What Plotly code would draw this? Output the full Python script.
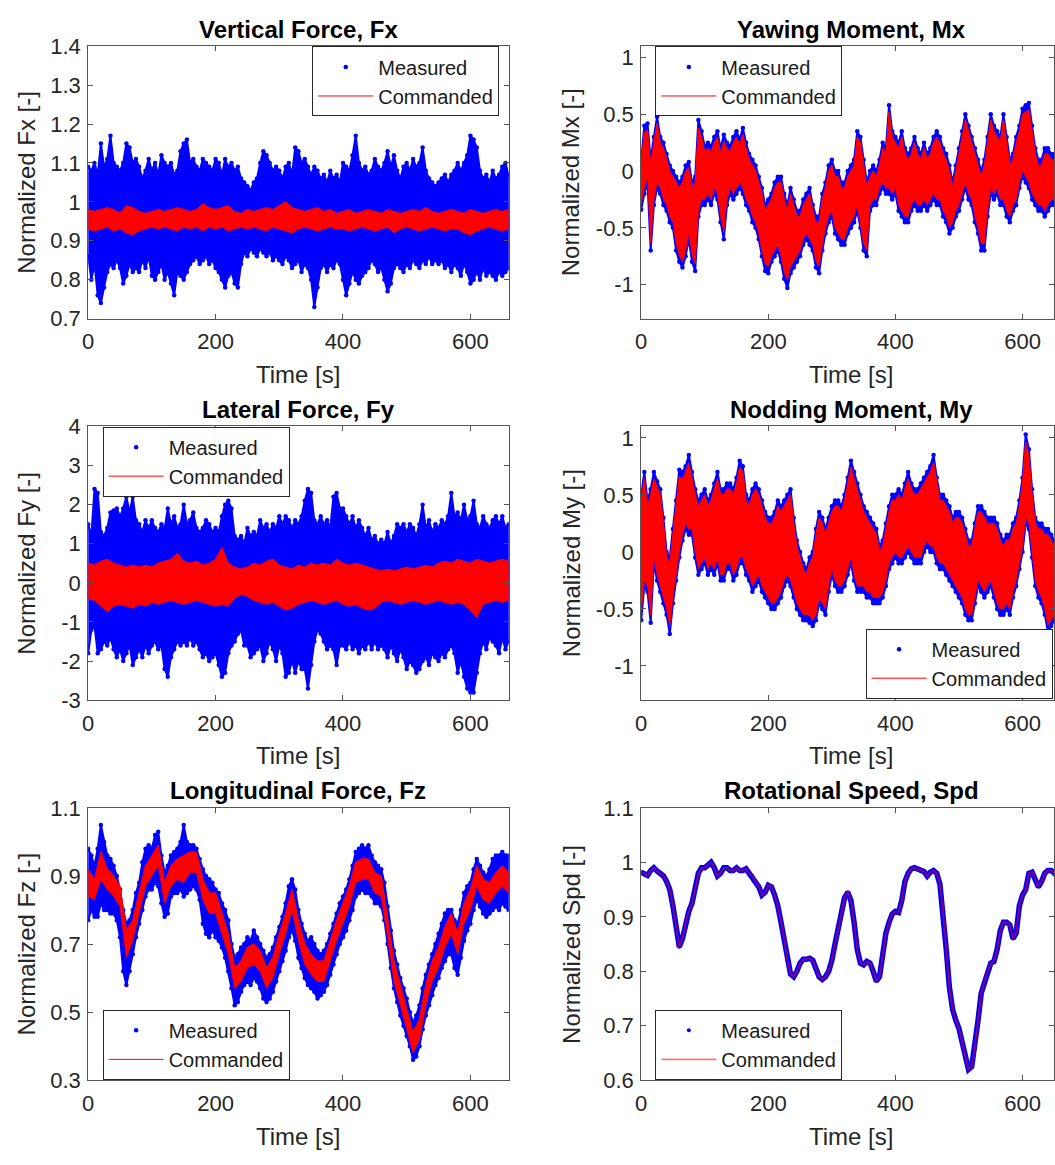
import plotly.graph_objects as go
from plotly.subplots import make_subplots

W, H = 1055, 1165
FONT = "Liberation Sans, Arial, Helvetica, sans-serif"
BLUE = "rgb(0,0,255)"
RED = "rgb(255,0,0)"
AXIS = "#555555"
TEXT = "#262626"

# sample times [s]
t5 = list(range(0, 661, 5))
t10 = list(range(0, 661, 10))

# ---------------- Vertical force Fx ----------------
fx_meas_hi = [
    1.09, 1.08, 1.10, 1.07, 1.15, 1.09, 1.11, 1.17, 1.10, 1.09,
    1.08, 1.10, 1.15, 1.14, 1.10, 1.11, 1.09, 1.06, 1.08, 1.11,
    1.08, 1.10, 1.07, 1.12, 1.10, 1.09, 1.10, 1.07, 1.08, 1.13,
    1.15, 1.16, 1.10, 1.11, 1.09, 1.08, 1.11, 1.10, 1.09, 1.08,
    1.11, 1.10, 1.07, 1.11, 1.09, 1.10, 1.08, 1.09, 1.06, 1.05,
    1.04, 1.03, 1.05, 1.06, 1.10, 1.13, 1.12, 1.10, 1.08, 1.09,
    1.08, 1.06, 1.09, 1.10, 1.07, 1.14, 1.13, 1.10, 1.11, 1.09,
    1.07, 1.09, 1.08, 1.06, 1.07, 1.05, 1.08, 1.06, 1.07, 1.05,
    1.10, 1.09, 1.08, 1.12, 1.17, 1.10, 1.08, 1.09, 1.07, 1.08,
    1.11, 1.09, 1.08, 1.10, 1.13, 1.09, 1.12, 1.08, 1.06, 1.09,
    1.10, 1.08, 1.11, 1.09, 1.10, 1.14, 1.08, 1.06, 1.05, 1.04,
    1.05, 1.06, 1.07, 1.05, 1.07, 1.08, 1.10, 1.08, 1.10, 1.12,
    1.17, 1.16, 1.14, 1.08, 1.06, 1.07, 1.05, 1.08, 1.06, 1.07,
    1.09, 1.10, 1.07]
fx_meas_lo = [
    0.86, 0.80, 0.84, 0.76, 0.74, 0.78, 0.82, 0.84, 0.83, 0.85,
    0.83, 0.79, 0.81, 0.84, 0.82, 0.83, 0.82, 0.85, 0.83, 0.86,
    0.81, 0.80, 0.82, 0.84, 0.80, 0.82, 0.79, 0.76, 0.82, 0.81,
    0.80, 0.82, 0.84, 0.85, 0.86, 0.84, 0.85, 0.86, 0.84, 0.85,
    0.83, 0.82, 0.80, 0.78, 0.81, 0.82, 0.79, 0.78, 0.84, 0.87,
    0.86, 0.88, 0.87, 0.86, 0.88, 0.87, 0.86, 0.87, 0.85, 0.86,
    0.85, 0.84, 0.86, 0.85, 0.83, 0.84, 0.85, 0.82, 0.84, 0.83,
    0.80, 0.73, 0.78, 0.83, 0.84, 0.82, 0.84, 0.83, 0.85, 0.84,
    0.80, 0.76, 0.79, 0.82, 0.80, 0.79, 0.81, 0.82, 0.83, 0.85,
    0.84, 0.82, 0.83, 0.80, 0.77, 0.79, 0.83, 0.84, 0.83, 0.82,
    0.84, 0.83, 0.85, 0.84, 0.83, 0.85, 0.84, 0.86, 0.84, 0.85,
    0.84, 0.85, 0.83, 0.84, 0.82, 0.84, 0.83, 0.81, 0.84, 0.82,
    0.79, 0.80, 0.82, 0.80, 0.83, 0.81, 0.82, 0.81, 0.80, 0.82,
    0.81, 0.82, 0.83]
fx_cmd_hi = [
    0.980, 0.975, 0.980, 0.985, 0.980, 0.970, 0.990, 0.985, 0.975, 0.970,
    0.975, 0.980, 0.975, 0.980, 0.985, 0.980, 0.975, 0.980, 0.995, 0.985,
    0.980, 0.985, 0.990, 0.975, 0.970, 0.980, 0.975, 0.980, 0.985, 0.980,
    0.990, 1.000, 0.985, 0.980, 0.975, 0.980, 0.985, 0.975, 0.980, 0.970,
    0.975, 0.980, 0.970, 0.975, 0.980, 0.975, 0.970, 0.980, 0.975, 0.970,
    0.975, 0.980, 0.975, 0.985, 0.975, 0.970, 0.975, 0.980, 0.975, 0.970,
    0.980, 0.975, 0.970, 0.975, 0.980, 0.975, 0.980]
fx_cmd_lo = [
    0.930, 0.925, 0.930, 0.935, 0.925, 0.930, 0.920, 0.915, 0.925, 0.930,
    0.935, 0.930, 0.935, 0.930, 0.925, 0.935, 0.930, 0.935, 0.925, 0.935,
    0.930, 0.935, 0.925, 0.930, 0.935, 0.930, 0.935, 0.930, 0.925, 0.935,
    0.930, 0.925, 0.920, 0.930, 0.935, 0.930, 0.925, 0.930, 0.935, 0.930,
    0.930, 0.925, 0.930, 0.935, 0.930, 0.925, 0.930, 0.935, 0.920, 0.930,
    0.935, 0.930, 0.925, 0.930, 0.935, 0.930, 0.925, 0.930, 0.930, 0.920,
    0.915, 0.925, 0.930, 0.935, 0.930, 0.925, 0.930]

# ---------------- Yawing moment Mx ----------------
mx_meas_hi = [
    0.10, 0.40, 0.42, 0.10, 0.30, 0.48, 0.30, 0.25, 0.15, 0.05,
    0.00, -0.05, -0.10, -0.05, 0.05, 0.08, -0.10, -0.05, 0.45, 0.35,
    0.22, 0.25, 0.22, 0.30, 0.35, 0.20, 0.32, 0.25, 0.22, 0.30,
    0.35, 0.28, 0.38, 0.25, 0.15, 0.10, 0.05, -0.05, -0.15, -0.30,
    -0.25, -0.20, -0.10, -0.05, -0.05, -0.20, -0.30, -0.15, -0.25, -0.35,
    -0.35, -0.25, -0.20, -0.15, -0.30, -0.40, -0.40, -0.20, -0.10, 0.05,
    0.10, 0.00, 0.00, -0.10, -0.10, 0.00, 0.05, 0.10, 0.35, 0.30,
    0.10, -0.10, 0.00, 0.05, 0.00, 0.10, 0.25, 0.20, 0.58, 0.35,
    0.30, 0.25, 0.35, 0.20, 0.15, 0.20, 0.30, 0.20, 0.15, 0.25,
    0.15, 0.20, 0.30, 0.35, 0.30, 0.20, 0.15, 0.05, -0.10, 0.05,
    0.20, 0.35, 0.50, 0.40, 0.30, 0.20, 0.10, 0.00, 0.10, 0.30,
    0.50, 0.40, 0.35, 0.30, 0.50, 0.30, 0.10, 0.15, 0.30, 0.40,
    0.55, 0.58, 0.60, 0.40, 0.20, 0.10, 0.10, 0.20, 0.20, 0.15,
    0.15, 0.20, 0.20]
mx_meas_lo = [
    -0.34, -0.20, -0.10, -0.70, -0.30, -0.15, -0.20, -0.30, -0.35, -0.45,
    -0.50, -0.70, -0.80, -0.85, -0.75, -0.60, -0.80, -0.88, -0.40, -0.30,
    -0.30, -0.25, -0.30, -0.20, -0.25, -0.45, -0.60, -0.30, -0.20, -0.25,
    -0.20, -0.15, -0.20, -0.30, -0.35, -0.45, -0.50, -0.60, -0.75, -0.88,
    -0.90, -0.80, -0.75, -0.70, -0.80, -0.95, -1.03, -0.90, -0.85, -0.80,
    -0.75, -0.65, -0.60, -0.65, -0.70, -0.85, -0.90, -0.70, -0.55, -0.45,
    -0.40, -0.55, -0.60, -0.65, -0.65, -0.55, -0.50, -0.45, -0.35, -0.50,
    -0.70, -0.75, -0.35, -0.30, -0.30, -0.20, -0.15, -0.20, -0.20, -0.25,
    -0.20, -0.35, -0.40, -0.45, -0.45, -0.35, -0.30, -0.35, -0.35, -0.30,
    -0.35, -0.30, -0.25, -0.30, -0.30, -0.40, -0.45, -0.55, -0.50, -0.40,
    -0.35, -0.25, -0.15, -0.25, -0.30, -0.45, -0.55, -0.70, -0.70, -0.40,
    -0.20, -0.25, -0.20, -0.30, -0.30, -0.40, -0.45, -0.35, -0.30, -0.15,
    -0.05, -0.10, -0.15, -0.25, -0.30, -0.35, -0.35, -0.40, -0.35, -0.30,
    -0.30, -0.25, -0.20]
mx_cmd_hi = [
    0.05, 0.34, 0.36, 0.05, 0.25, 0.42, 0.25, 0.20, 0.10, 0.00,
    -0.05, -0.10, -0.15, -0.10, 0.00, 0.03, -0.15, -0.10, 0.38, 0.30,
    0.17, 0.20, 0.17, 0.25, 0.30, 0.15, 0.26, 0.20, 0.17, 0.25,
    0.30, 0.23, 0.32, 0.20, 0.10, 0.05, 0.00, -0.10, -0.20, -0.35,
    -0.30, -0.25, -0.15, -0.10, -0.10, -0.25, -0.35, -0.20, -0.30, -0.40,
    -0.40, -0.30, -0.25, -0.20, -0.35, -0.45, -0.45, -0.25, -0.15, 0.00,
    0.05, -0.05, -0.05, -0.15, -0.15, -0.05, 0.00, 0.05, 0.30, 0.25,
    0.05, -0.15, -0.05, 0.00, -0.05, 0.05, 0.20, 0.15, 0.52, 0.30,
    0.25, 0.20, 0.30, 0.15, 0.10, 0.15, 0.25, 0.15, 0.10, 0.20,
    0.10, 0.15, 0.25, 0.30, 0.25, 0.15, 0.10, 0.00, -0.15, 0.00,
    0.15, 0.30, 0.45, 0.35, 0.25, 0.15, 0.05, -0.05, 0.05, 0.25,
    0.45, 0.35, 0.30, 0.25, 0.45, 0.25, 0.05, 0.10, 0.25, 0.35,
    0.50, 0.52, 0.54, 0.35, 0.15, 0.05, 0.05, 0.15, 0.15, 0.10,
    0.10, 0.15, 0.15]
mx_cmd_lo = [
    -0.29, -0.15, -0.05, -0.64, -0.25, -0.10, -0.15, -0.25, -0.30, -0.40,
    -0.45, -0.64, -0.74, -0.80, -0.70, -0.55, -0.74, -0.82, -0.35, -0.25,
    -0.25, -0.20, -0.25, -0.15, -0.20, -0.40, -0.54, -0.25, -0.15, -0.20,
    -0.15, -0.10, -0.15, -0.25, -0.30, -0.40, -0.45, -0.55, -0.70, -0.82,
    -0.84, -0.75, -0.70, -0.65, -0.75, -0.89, -0.96, -0.84, -0.80, -0.75,
    -0.70, -0.60, -0.55, -0.60, -0.65, -0.80, -0.84, -0.65, -0.50, -0.40,
    -0.35, -0.50, -0.55, -0.60, -0.60, -0.50, -0.45, -0.40, -0.30, -0.45,
    -0.64, -0.70, -0.30, -0.25, -0.25, -0.15, -0.10, -0.15, -0.15, -0.20,
    -0.15, -0.30, -0.35, -0.40, -0.40, -0.30, -0.25, -0.30, -0.30, -0.25,
    -0.30, -0.25, -0.20, -0.25, -0.25, -0.35, -0.40, -0.50, -0.45, -0.35,
    -0.30, -0.20, -0.10, -0.20, -0.25, -0.40, -0.50, -0.64, -0.64, -0.35,
    -0.15, -0.20, -0.15, -0.25, -0.25, -0.35, -0.40, -0.30, -0.25, -0.10,
    0.00, -0.05, -0.10, -0.20, -0.25, -0.30, -0.30, -0.35, -0.30, -0.25,
    -0.25, -0.20, -0.15]

# ---------------- Lateral force Fy ----------------
fy_meas_hi = [
    1.50, 1.20, 2.40, 2.30, 1.30, 1.20, 1.40, 1.80, 1.85, 1.90,
    1.70, 1.90, 2.20, 1.80, 2.20, 1.60, 1.50, 1.30, 1.60, 1.40,
    1.60, 1.40, 1.30, 1.50, 1.40, 1.90, 1.50, 1.70, 1.40, 1.50,
    2.00, 1.50, 1.60, 1.80, 1.40, 1.30, 1.40, 1.60, 1.50, 1.30,
    1.40, 1.30, 1.70, 2.00, 2.10, 1.90, 1.20, 1.10, 1.20, 1.00,
    1.40, 1.20, 1.30, 1.20, 1.60, 1.40, 1.50, 1.30, 1.50, 1.40,
    1.70, 1.50, 1.70, 1.60, 1.40, 1.60, 1.50, 1.70, 2.10, 2.40,
    2.30, 1.60, 1.50, 1.70, 1.50, 1.60, 1.40, 2.20, 2.30, 1.90,
    1.90, 1.70, 1.50, 1.70, 1.40, 1.60, 1.40, 1.20, 1.40, 1.10,
    1.20, 1.00, 1.10, 1.00, 1.30, 1.00, 1.20, 1.50, 1.40, 1.50,
    1.30, 1.50, 1.40, 1.20, 1.50, 2.00, 1.40, 1.60, 1.30, 1.50,
    1.40, 1.60, 1.50, 1.70, 2.30, 1.70, 1.80, 1.60, 2.00, 1.60,
    1.70, 2.10, 1.50, 1.40, 1.70, 1.50, 1.40, 1.60, 1.70, 1.50,
    1.70, 1.40, 1.50]
fy_meas_lo = [
    -1.80, -1.20, -1.10, -1.80, -1.70, -1.50, -1.60, -1.40, -1.70, -1.90,
    -1.70, -2.00, -1.80, -1.60, -2.10, -1.90, -1.70, -1.90, -1.60, -1.80,
    -1.60, -1.50, -1.70, -1.60, -2.20, -2.40, -1.90, -1.70, -1.50, -1.60,
    -1.50, -1.60, -1.40, -1.60, -1.50, -1.70, -1.90, -1.80, -2.00, -1.90,
    -1.80, -2.10, -2.40, -2.30, -1.80, -1.60, -1.50, -1.30, -1.20, -1.60,
    -1.60, -1.90, -1.80, -1.70, -1.60, -2.00, -1.80, -1.50, -1.70, -2.00,
    -1.60, -1.80, -2.40, -2.30, -2.00, -2.30, -2.00, -2.20, -2.20, -2.70,
    -2.10, -1.50, -1.20, -1.30, -1.50, -1.70, -1.60, -1.70, -2.10, -1.60,
    -1.60, -1.70, -1.50, -1.70, -1.60, -1.80, -1.60, -1.70, -1.50, -1.70,
    -1.50, -1.70, -1.60, -1.70, -1.90, -1.60, -1.80, -2.00, -1.70, -1.90,
    -2.20, -2.00, -2.10, -2.30, -2.20, -2.00, -1.90, -2.10, -1.80, -1.90,
    -2.00, -1.80, -1.90, -1.70, -1.60, -1.80, -2.30, -2.00, -2.40, -2.70,
    -2.80, -2.80, -2.30, -1.80, -1.50, -1.70, -1.40, -1.50, -1.60, -1.80,
    -1.40, -1.70, -1.50]
fy_cmd_hi = [
    0.50, 0.45, 0.55, 0.60, 0.50, 0.45, 0.40, 0.45, 0.40, 0.45,
    0.40, 0.50, 0.55, 0.60, 0.75, 0.55, 0.50, 0.55, 0.45, 0.50,
    0.60, 0.90, 0.50, 0.40, 0.35, 0.40, 0.50, 0.45, 0.55, 0.60,
    0.45, 0.40, 0.35, 0.45, 0.40, 0.50, 0.45, 0.50, 0.45, 0.60,
    0.50, 0.45, 0.50, 0.45, 0.40, 0.35, 0.30, 0.35, 0.30, 0.35,
    0.40, 0.35, 0.40, 0.45, 0.40, 0.50, 0.55, 0.50, 0.60, 0.55,
    0.50, 0.60, 0.55, 0.50, 0.55, 0.60, 0.55]
fy_cmd_lo = [
    -0.40, -0.45, -0.60, -0.75, -0.60, -0.55, -0.60, -0.65, -0.55, -0.60,
    -0.50, -0.55, -0.50, -0.45, -0.50, -0.55, -0.50, -0.45, -0.50, -0.55,
    -0.60, -0.55, -0.60, -0.40, -0.30, -0.35, -0.45, -0.50, -0.55, -0.50,
    -0.60, -0.70, -0.65, -0.55, -0.50, -0.45, -0.50, -0.55, -0.50, -0.45,
    -0.55, -0.60, -0.55, -0.65, -0.70, -0.65, -0.50, -0.45, -0.50, -0.55,
    -0.50, -0.45, -0.50, -0.55, -0.50, -0.45, -0.50, -0.55, -0.50, -0.55,
    -0.70, -0.90, -0.55, -0.50, -0.45, -0.50, -0.45]

# ---------------- Nodding moment My ----------------
my_meas_hi = [
    0.50, 0.70, 0.45, 0.55, 0.70, 0.62, 0.55, 0.30, 0.00, -0.05,
    0.20, 0.45, 0.72, 0.70, 0.75, 0.85, 0.70, 0.55, 0.45, 0.50,
    0.55, 0.45, 0.50, 0.60, 0.70, 0.55, 0.55, 0.60, 0.60, 0.55,
    0.65, 0.80, 0.75, 0.50, 0.45, 0.55, 0.60, 0.55, 0.45, 0.35,
    0.30, 0.30, 0.35, 0.45, 0.40, 0.45, 0.50, 0.55, 0.30, 0.10,
    0.00, -0.10, -0.15, -0.05, 0.00, 0.20, 0.35, 0.30, 0.20, 0.30,
    0.40, 0.45, 0.45, 0.40, 0.50, 0.65, 0.80, 0.70, 0.60, 0.50,
    0.40, 0.35, 0.30, 0.25, 0.20, 0.05, 0.10, 0.25, 0.40, 0.50,
    0.50, 0.55, 0.50, 0.60, 0.70, 0.60, 0.55, 0.55, 0.60, 0.65,
    0.70, 0.75, 0.85, 0.65, 0.50, 0.50, 0.45, 0.40, 0.30, 0.35,
    0.35, 0.30, 0.20, 0.10, 0.10, 0.25, 0.40, 0.40, 0.35, 0.30,
    0.30, 0.30, 0.25, 0.15, 0.10, 0.15, 0.15, 0.25, 0.30, 0.45,
    0.65, 1.03, 0.90, 0.55, 0.30, 0.25, 0.25, 0.20, 0.20, 0.15,
    0.10, 0.15, 0.20]
my_meas_lo = [
    -0.60, -0.30, -0.35, -0.62, -0.10, -0.25, -0.35, -0.45, -0.55, -0.72,
    -0.45, -0.25, -0.05, 0.10, 0.20, 0.15, 0.15, -0.05, -0.20, -0.15,
    -0.10, -0.20, -0.15, -0.20, -0.10, -0.25, -0.25, -0.15, -0.15, -0.25,
    -0.20, -0.10, -0.10, -0.20, -0.25, -0.35, -0.30, -0.25, -0.35, -0.40,
    -0.45, -0.50, -0.50, -0.45, -0.40, -0.30, -0.25, -0.30, -0.40, -0.50,
    -0.55, -0.60, -0.60, -0.62, -0.65, -0.60, -0.45, -0.50, -0.55, -0.35,
    -0.20, -0.30, -0.35, -0.35, -0.30, -0.20, -0.10, -0.25, -0.35, -0.35,
    -0.35, -0.40, -0.40, -0.45, -0.45, -0.45, -0.40, -0.30, -0.15, -0.10,
    -0.05, -0.10, -0.10, -0.05, 0.00, -0.05, -0.10, -0.10, -0.10, 0.00,
    0.05, 0.00, 0.00, -0.10, -0.15, -0.15, -0.20, -0.25, -0.30, -0.35,
    -0.40, -0.45, -0.55, -0.60, -0.60, -0.45, -0.30, -0.35, -0.40, -0.35,
    -0.30, -0.40, -0.50, -0.55, -0.55, -0.50, -0.55, -0.40, -0.30, -0.15,
    0.00, 0.25, 0.20, -0.05, -0.30, -0.40, -0.45, -0.55, -0.70, -0.65,
    -0.60, -0.50, -0.40]
my_cmd_hi = [
    0.45, 0.64, 0.40, 0.50, 0.64, 0.56, 0.50, 0.25, -0.05, -0.10,
    0.15, 0.40, 0.66, 0.64, 0.70, 0.78, 0.64, 0.50, 0.40, 0.45,
    0.50, 0.40, 0.45, 0.55, 0.64, 0.50, 0.50, 0.55, 0.55, 0.50,
    0.60, 0.74, 0.70, 0.45, 0.40, 0.50, 0.55, 0.50, 0.40, 0.30,
    0.25, 0.25, 0.30, 0.40, 0.35, 0.40, 0.45, 0.50, 0.25, 0.05,
    -0.05, -0.15, -0.20, -0.10, -0.05, 0.15, 0.30, 0.25, 0.15, 0.25,
    0.35, 0.40, 0.40, 0.35, 0.45, 0.60, 0.74, 0.64, 0.55, 0.45,
    0.35, 0.30, 0.25, 0.20, 0.15, 0.00, 0.05, 0.20, 0.35, 0.45,
    0.45, 0.50, 0.45, 0.55, 0.64, 0.55, 0.50, 0.50, 0.55, 0.60,
    0.64, 0.70, 0.78, 0.60, 0.45, 0.45, 0.40, 0.35, 0.25, 0.30,
    0.30, 0.25, 0.15, 0.05, 0.05, 0.20, 0.35, 0.35, 0.30, 0.25,
    0.25, 0.25, 0.20, 0.10, 0.05, 0.10, 0.10, 0.20, 0.25, 0.40,
    0.60, 0.96, 0.84, 0.50, 0.25, 0.20, 0.20, 0.15, 0.15, 0.10,
    0.05, 0.10, 0.15]
my_cmd_lo = [
    -0.54, -0.25, -0.30, -0.56, -0.05, -0.20, -0.30, -0.40, -0.50, -0.65,
    -0.40, -0.20, 0.00, 0.15, 0.25, 0.20, 0.20, 0.00, -0.15, -0.10,
    -0.05, -0.15, -0.10, -0.15, -0.05, -0.20, -0.20, -0.10, -0.10, -0.20,
    -0.15, -0.05, -0.05, -0.15, -0.20, -0.30, -0.25, -0.20, -0.30, -0.35,
    -0.40, -0.45, -0.45, -0.40, -0.35, -0.25, -0.20, -0.25, -0.35, -0.45,
    -0.50, -0.55, -0.55, -0.56, -0.60, -0.55, -0.40, -0.45, -0.50, -0.30,
    -0.15, -0.25, -0.30, -0.30, -0.25, -0.15, -0.05, -0.20, -0.30, -0.30,
    -0.30, -0.35, -0.35, -0.40, -0.40, -0.40, -0.35, -0.25, -0.10, -0.05,
    0.00, -0.05, -0.05, 0.00, 0.05, 0.00, -0.05, -0.05, -0.05, 0.05,
    0.10, 0.05, 0.05, -0.05, -0.10, -0.10, -0.15, -0.20, -0.25, -0.30,
    -0.35, -0.40, -0.50, -0.55, -0.55, -0.40, -0.25, -0.30, -0.35, -0.30,
    -0.25, -0.35, -0.45, -0.50, -0.50, -0.45, -0.50, -0.35, -0.25, -0.10,
    0.05, 0.30, 0.25, 0.00, -0.25, -0.35, -0.40, -0.50, -0.64, -0.60,
    -0.55, -0.45, -0.35]

# ---------------- Longitudinal force Fz ----------------
fz_meas_hi = [
    0.98, 0.96, 0.93, 0.98, 1.05, 1.00, 0.96, 0.95, 0.93, 0.90,
    0.86, 0.80, 0.76, 0.77, 0.80, 0.85, 0.88, 0.94, 0.98, 0.99,
    0.98, 1.02, 1.03, 0.96, 0.91, 0.93, 0.96, 0.97, 0.98, 1.00,
    1.05, 1.00, 0.99, 0.99, 0.98, 0.95, 0.92, 0.90, 0.89, 0.88,
    0.86, 0.85, 0.82, 0.80, 0.77, 0.70, 0.66, 0.67, 0.69, 0.70,
    0.72, 0.71, 0.74, 0.72, 0.70, 0.68, 0.66, 0.67, 0.69, 0.72,
    0.75, 0.78, 0.82, 0.87, 0.89, 0.86, 0.80, 0.76, 0.73, 0.71,
    0.72, 0.70, 0.68, 0.67, 0.68, 0.70, 0.73, 0.76, 0.79, 0.82,
    0.84, 0.86, 0.89, 0.93, 0.97, 0.98, 0.99, 0.98, 0.99, 0.96,
    0.94, 0.93, 0.92, 0.88, 0.81, 0.74, 0.68, 0.64, 0.60, 0.57,
    0.54, 0.50, 0.47, 0.49, 0.52, 0.57, 0.61, 0.64, 0.67, 0.70,
    0.73, 0.76, 0.79, 0.80, 0.80, 0.77, 0.76, 0.80, 0.85, 0.87,
    0.88, 0.92, 0.95, 0.93, 0.91, 0.90, 0.92, 0.95, 0.96, 0.96,
    0.97, 0.96, 0.96]
fz_meas_lo = [
    0.77, 0.80, 0.78, 0.78, 0.82, 0.80, 0.80, 0.79, 0.79, 0.77,
    0.72, 0.62, 0.58, 0.62, 0.67, 0.72, 0.76, 0.80, 0.84, 0.86,
    0.86, 0.88, 0.87, 0.82, 0.78, 0.79, 0.84, 0.85, 0.85, 0.86,
    0.84, 0.85, 0.86, 0.87, 0.86, 0.83, 0.76, 0.73, 0.72, 0.74,
    0.72, 0.71, 0.69, 0.66, 0.62, 0.57, 0.52, 0.53, 0.56, 0.58,
    0.59, 0.58, 0.60, 0.59, 0.57, 0.54, 0.53, 0.54, 0.56, 0.59,
    0.62, 0.65, 0.68, 0.72, 0.74, 0.71, 0.66, 0.63, 0.60, 0.58,
    0.57, 0.56, 0.54, 0.55, 0.56, 0.58, 0.61, 0.64, 0.67, 0.70,
    0.72, 0.74, 0.77, 0.80, 0.84, 0.85, 0.86, 0.85, 0.85, 0.84,
    0.82, 0.82, 0.81, 0.77, 0.70, 0.63, 0.57, 0.53, 0.49, 0.46,
    0.43, 0.40, 0.36, 0.37, 0.40, 0.45, 0.49, 0.52, 0.55, 0.58,
    0.60, 0.63, 0.65, 0.67, 0.67, 0.63, 0.61, 0.66, 0.71, 0.74,
    0.76, 0.80, 0.83, 0.81, 0.79, 0.78, 0.79, 0.80, 0.81, 0.80,
    0.82, 0.81, 0.80]
fz_cmd_hi = [
    0.92, 0.89, 0.97, 0.92, 0.90, 0.87, 0.74, 0.77, 0.85, 0.93,
    0.96, 0.99, 0.88, 0.93, 0.95, 0.96, 0.97, 0.97, 0.89, 0.85,
    0.85, 0.79, 0.73, 0.63, 0.65, 0.69, 0.70, 0.68, 0.63, 0.66,
    0.73, 0.79, 0.86, 0.77, 0.70, 0.67, 0.65, 0.65, 0.71, 0.77,
    0.82, 0.87, 0.94, 0.95, 0.95, 0.91, 0.90, 0.78, 0.65, 0.58,
    0.51, 0.44, 0.48, 0.58, 0.65, 0.69, 0.75, 0.79, 0.73, 0.82,
    0.86, 0.93, 0.89, 0.88, 0.91, 0.93, 0.91]
fz_cmd_lo = [
    0.84, 0.83, 0.89, 0.86, 0.84, 0.81, 0.66, 0.71, 0.79, 0.87,
    0.90, 0.93, 0.82, 0.87, 0.89, 0.88, 0.91, 0.91, 0.83, 0.79,
    0.79, 0.73, 0.67, 0.57, 0.59, 0.63, 0.64, 0.62, 0.57, 0.60,
    0.67, 0.73, 0.80, 0.71, 0.64, 0.61, 0.59, 0.59, 0.65, 0.71,
    0.76, 0.81, 0.88, 0.89, 0.89, 0.85, 0.84, 0.72, 0.59, 0.52,
    0.45, 0.38, 0.42, 0.52, 0.59, 0.63, 0.69, 0.73, 0.67, 0.76,
    0.80, 0.87, 0.83, 0.82, 0.85, 0.87, 0.85]

# ---------------- Rotational speed ----------------
spd_measured = [
    0.982, 0.980, 0.976, 0.985, 0.990, 0.984, 0.980, 0.975, 0.965, 0.950,
    0.920, 0.880, 0.845, 0.860, 0.890, 0.910, 0.925, 0.950, 0.980, 0.990,
    0.990, 0.995, 1.000, 0.990, 0.975, 0.980, 0.990, 0.990, 0.985, 0.985,
    0.990, 0.985, 0.985, 0.988, 0.980, 0.975, 0.965, 0.955, 0.940, 0.945,
    0.958, 0.955, 0.940, 0.920, 0.890, 0.860, 0.820, 0.795, 0.790, 0.800,
    0.815, 0.822, 0.822, 0.824, 0.820, 0.805, 0.790, 0.785, 0.790, 0.800,
    0.820, 0.850, 0.880, 0.910, 0.935, 0.945, 0.930, 0.890, 0.840, 0.815,
    0.812, 0.818, 0.815, 0.800, 0.782, 0.790, 0.830, 0.870, 0.890, 0.905,
    0.910, 0.908, 0.930, 0.965, 0.980, 0.988, 0.990, 0.988, 0.985, 0.983,
    0.975, 0.982, 0.985, 0.980, 0.960, 0.910, 0.840, 0.770, 0.730, 0.710,
    0.695, 0.670, 0.640, 0.620, 0.625, 0.660, 0.710, 0.760, 0.780, 0.800,
    0.815, 0.818, 0.840, 0.875, 0.890, 0.890, 0.885, 0.860, 0.870, 0.920,
    0.940, 0.950, 0.980, 0.982, 0.970, 0.955, 0.965, 0.980, 0.985, 0.985,
    0.980, 0.982, 0.985]
# the speed loop tracks its command closely: both traces share one curve
spd_commanded = spd_measured

# ---------------- axis ticks ----------------
time_ticks = [0, 200, 400, 600]
fx_ticks = [0.7, 0.8, 0.9, 1.0, 1.1, 1.2, 1.3, 1.4]
fx_ticklabels = ["0.7", "0.8", "0.9", "1", "1.1", "1.2", "1.3", "1.4"]
fy_ticks = [-3, -2, -1, 0, 1, 2, 3, 4]
fy_ticklabels = ["-3", "-2", "-1", "0", "1", "2", "3", "4"]
m_ticks = [-1, -0.5, 0, 0.5, 1]
m_ticklabels = ["-1", "-0.5", "0", "0.5", "1"]
fz_ticks = [0.3, 0.5, 0.7, 0.9, 1.1]
fz_ticklabels = ["0.3", "0.5", "0.7", "0.9", "1.1"]
spd_ticks = [0.6, 0.7, 0.8, 0.9, 1.0, 1.1]
spd_ticklabels = ["0.6", "0.7", "0.8", "0.9", "1", "1.1"]

for arr in (fx_meas_hi, fx_meas_lo, mx_meas_hi, mx_meas_lo, mx_cmd_hi, mx_cmd_lo,
            fy_meas_hi, fy_meas_lo, my_meas_hi, my_meas_lo, my_cmd_hi, my_cmd_lo,
            fz_meas_hi, fz_meas_lo, spd_measured):
    assert len(arr) == len(t5), len(arr)
for arr in (fx_cmd_hi, fx_cmd_lo, fy_cmd_hi, fy_cmd_lo, fz_cmd_hi, fz_cmd_lo):
    assert len(arr) == len(t10), len(arr)

# ---------------- layout geometry (pixels) ----------------
COL_X = {1: (82.7, 506.0), 2: (639.4, 1055.0)}
ROW_Y = {1: (35.0, 313.3), 2: (423.5, 703.3), 3: (813.3, 1091.7)}
COL_XRANGE = {1: [0, 660], 2: [0, 649.5]}


def px(x):
    return x / W


def py(y):
    return 1 - y / H


# legend anchor: (left x, y, vertical anchor)
panels = [
    dict(row=1, col=1, title="Vertical Force, Fx", ylabel="Normalized Fx [-]",
         yrange=[0.7, 1.4], yt=fx_ticks, ytl=fx_ticklabels, legend="legend",
         lg=(308.3, 71.0, "middle"),
         meas=(t5, fx_meas_lo, fx_meas_hi), cmd=(t10, fx_cmd_lo, fx_cmd_hi)),
    dict(row=1, col=2, title="Yawing Moment, Mx", ylabel="Normalized Mx [-]",
         yrange=[-1.3, 1.1], yt=m_ticks, ytl=m_ticklabels, legend="legend2",
         lg=(653.7, 71.0, "middle"),
         meas=(t5, mx_meas_lo, mx_meas_hi), cmd=(t5, mx_cmd_lo, mx_cmd_hi)),
    dict(row=2, col=1, title="Lateral Force, Fy", ylabel="Normalized Fy [-]",
         yrange=[-3, 4], yt=fy_ticks, ytl=fy_ticklabels, legend="legend3",
         lg=(97.3, 459.5, "middle"),
         meas=(t5, fy_meas_lo, fy_meas_hi), cmd=(t10, fy_cmd_lo, fy_cmd_hi)),
    dict(row=2, col=2, title="Nodding Moment, My", ylabel="Normalized My [-]",
         yrange=[-1.3, 1.1], yt=m_ticks, ytl=m_ticklabels, legend="legend4",
         lg=(865.3, 666.0, "middle"),
         meas=(t5, my_meas_lo, my_meas_hi), cmd=(t5, my_cmd_lo, my_cmd_hi)),
    dict(row=3, col=1, title="Longitudinal Force, Fz", ylabel="Normalized Fz [-]",
         yrange=[0.3, 1.1], yt=fz_ticks, ytl=fz_ticklabels, legend="legend5",
         lg=(97.3, 1055.5, "middle"),
         meas=(t5, fz_meas_lo, fz_meas_hi), cmd=(t10, fz_cmd_lo, fz_cmd_hi)),
    dict(row=3, col=2, title="Rotational Speed, Spd", ylabel="Normalized Spd [-]",
         yrange=[0.6, 1.1], yt=spd_ticks, ytl=spd_ticklabels, legend="legend6",
         lg=(653.7, 1055.5, "middle"),
         line=(t5, spd_measured, spd_commanded)),
]

fig = make_subplots(rows=3, cols=2)


def band_polygon(t, lo, hi):
    return list(t) + list(t)[::-1], list(hi) + list(lo)[::-1]


annotations = []
legends = {}

for p in panels:
    r, c, lg = p["row"], p["col"], p["legend"]
    if "line" in p:
        t, meas, cmd = p["line"]
        fig.add_trace(go.Scatter(x=t, y=meas, mode="lines", line=dict(color=BLUE, width=5.5),
                                 showlegend=False, hoverinfo="skip"), row=r, col=c)
        fig.add_trace(go.Scatter(x=t, y=meas, mode="markers", name="Measured",
                                 marker=dict(color=BLUE, size=4), legend=lg), row=r, col=c)
        fig.add_trace(go.Scatter(x=t, y=cmd, mode="lines", name="Commanded",
                                 line=dict(color=RED, width=1.8), opacity=0.55, legend=lg),
                      row=r, col=c)
    else:
        tm, mlo, mhi = p["meas"]
        xs, ys = band_polygon(tm, mlo, mhi)
        fig.add_trace(go.Scatter(x=xs, y=ys, mode="lines", fill="toself", fillcolor=BLUE,
                                 line=dict(color=BLUE, width=2), showlegend=False,
                                 hoverinfo="skip"), row=r, col=c)
        fig.add_trace(go.Scatter(x=list(tm) + list(tm), y=list(mhi) + list(mlo), mode="markers",
                                 name="Measured", marker=dict(color=BLUE, size=4.5), legend=lg),
                      row=r, col=c)
        tc, clo, chi = p["cmd"]
        xs, ys = band_polygon(tc, clo, chi)
        fig.add_trace(go.Scatter(x=xs, y=ys, mode="lines", fill="toself", fillcolor=RED,
                                 line=dict(color=RED, width=0.8), showlegend=False,
                                 hoverinfo="skip"), row=r, col=c)
        fig.add_trace(go.Scatter(x=tc, y=chi, mode="lines", name="Commanded",
                                 line=dict(color=RED, width=1), legend=lg), row=r, col=c)

    x0, x1 = COL_X[c]
    y0, y1 = ROW_Y[r]
    axis_common = dict(showline=True, linecolor=AXIS, linewidth=1, mirror="ticks",
                       ticks="inside", ticklen=5, tickcolor=AXIS, tickwidth=1,
                       showgrid=False, zeroline=False,
                       tickfont=dict(family=FONT, size=22, color=TEXT))
    fig.update_xaxes(domain=[px(x0), min(px(x1), 1.0)], range=COL_XRANGE[c],
                     tickvals=time_ticks, ticktext=[str(v) for v in time_ticks],
                     ticklabelstandoff=3, **axis_common, row=r, col=c)
    fig.update_yaxes(domain=[py(y1), py(y0)], range=p["yrange"], tickvals=p["yt"],
                     ticktext=p["ytl"], ticklabelstandoff=2, **axis_common, row=r, col=c)

    # visible horizontal centre of the axes box
    xc = (x0 + min(x1, W)) / 2 if c == 1 else 851.0
    annotations.append(dict(text="<b>%s</b>" % p["title"], x=px(xc), y=py(y0 - 17.5),
                            xref="paper", yref="paper", showarrow=False,
                            xanchor="center", yanchor="middle",
                            font=dict(family=FONT, size=24, color="#000000")))
    annotations.append(dict(text="Time [s]", x=px(xc), y=py(y1 + 57), xref="paper",
                            yref="paper", showarrow=False, xanchor="center", yanchor="middle",
                            font=dict(family=FONT, size=24, color=TEXT)))
    ylab_x = 20.5 if c == 1 else 568.6
    annotations.append(dict(text=p["ylabel"], x=px(ylab_x), y=py((y0 + y1) / 2), xref="paper",
                            yref="paper", showarrow=False, textangle=-90,
                            xanchor="center", yanchor="middle",
                            font=dict(family=FONT, size=24, color=TEXT)))

    lx, ly, yanch = p["lg"]
    legends[lg] = dict(x=px(lx), y=py(ly), xanchor="left", yanchor=yanch,
                       bgcolor="white", bordercolor="#262626", borderwidth=1,
                       font=dict(family=FONT, size=20, color="#1a1a1a"),
                       itemwidth=55, tracegroupgap=0, itemclick=False)

fig.update_layout(width=W, height=H, margin=dict(l=0, r=0, t=0, b=0),
                  paper_bgcolor="white", plot_bgcolor="white",
                  annotations=annotations, showlegend=True, **legends)

fig.write_html("out.html")
